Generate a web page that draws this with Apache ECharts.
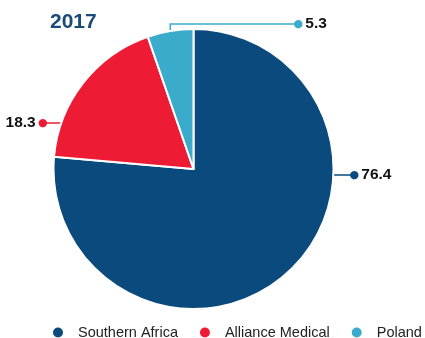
<!DOCTYPE html>
<html>
<head>
<meta charset="utf-8">
<style>html,body{margin:0;padding:0;background:#fff}#c{width:425px;height:338px}</style>
<script src="https://cdn.jsdelivr.net/npm/echarts@6/dist/echarts.min.js"></script>
</head>
<body>
<div id="c"></div>
<script>
const categories = ['Southern Africa', 'Alliance Medical', 'Poland'];
const values = [76.4, 18.3, 5.3];
const colors = ['#0b4a7c', '#ed1b34', '#3aabcb'];
const title = '2017';

const CX = 193.5, CY = 169, R = 140;
// label anchor (dot) positions and sides
const labelSpots = [
  { y: 175, side: 'right', x: 353 },
  { y: 123, side: 'left', x: 44 },
  { y: 24, side: 'top', x: 297 }
];

const chart = echarts.init(document.getElementById('c'), null, { renderer: 'canvas' });
const data = categories.map((n, i) => ({
  name: n,
  value: values[i],
  itemStyle: { color: colors[i] },
  label: {
    formatter: labelSpots[i].side === 'left' ? '{v|{c}}{s| }{d|●}' : '{d|●}{s| }{v|{c}}',
    rich: {
      d: { color: colors[i], fontSize: 11, fontFamily: 'DejaVu Sans' },
      s: { fontSize: 8 },
      v: { color: '#111', fontSize: 15.5, fontWeight: 'bold', fontFamily: 'Liberation Sans' }
    }
  },
  labelLine: { lineStyle: { color: colors[i], width: 1.5 } }
}));

chart.setOption({
  animation: false,
  title: {
    text: title, left: 45, top: 7,
    textStyle: { color: '#1a4a7a', fontSize: 21, fontWeight: 'bold', fontFamily: 'Liberation Sans' }
  },
  legend: {
    data: categories, left: 51, top: 325, width: 374, padding: 0, icon: 'circle', itemWidth: 30, itemHeight: 12, itemGap: 20,
    textStyle: { color: '#222', fontSize: 14.5, fontFamily: 'Liberation Sans' }
  },
  series: [{
    type: 'pie',
    center: [CX, CY],
    radius: R,
    startAngle: 90,
    clockwise: true,
    itemStyle: { borderColor: '#fff', borderWidth: 2 },
    label: { show: true, position: 'outside' },
    labelLine: { show: true, length: 10, length2: 10 },
    labelLayout: function (p) {
      const s = labelSpots[p.dataIndex];
      const dotHalf = 3.5;
      if (s.side === 'right') {
        const x0 = CX + Math.sqrt(R * R - (s.y - CY) * (s.y - CY));
        return { x: s.x - dotHalf, y: s.y, align: 'left', verticalAlign: 'middle',
          labelLinePoints: [[x0, s.y], [s.x - 1, s.y], [s.x - 1, s.y]] };
      } else if (s.side === 'left') {
        const x0 = CX - Math.sqrt(R * R - (s.y - CY) * (s.y - CY));
        return { x: s.x + dotHalf, y: s.y, align: 'right', verticalAlign: 'middle',
          labelLinePoints: [[x0, s.y], [s.x + 1, s.y], [s.x + 1, s.y]] };
      } else {
        const st = p.labelLinePoints ? p.labelLinePoints[0] : [170, 31];
        return { x: s.x - dotHalf, y: s.y, align: 'left', verticalAlign: 'middle',
          labelLinePoints: [[st[0], st[1]], [st[0], s.y], [s.x - 1, s.y]] };
      }
    },
    data: data
  }]
});
</script>
</body>
</html>
